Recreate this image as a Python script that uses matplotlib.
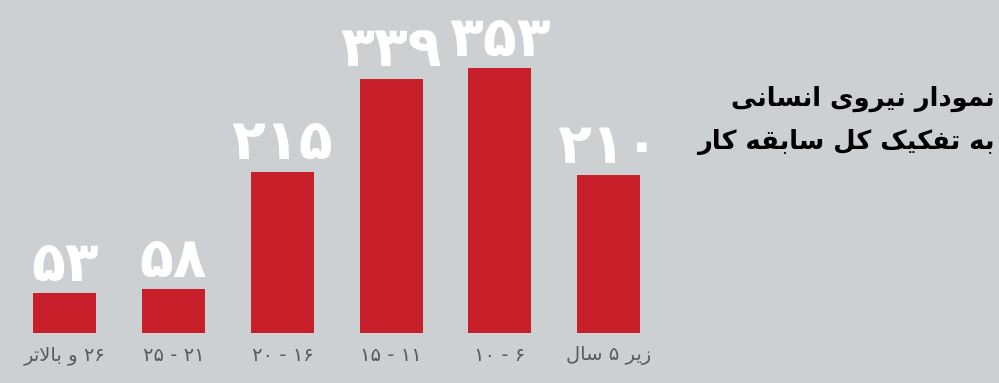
"""Bar chart: workforce by total years of service (Persian labels)."""

import matplotlib
matplotlib.use("Agg")
import matplotlib.pyplot as plt

# data, left to right as in the picture
categories = ["۲۶ و بالاتر", "۲۱ - ۲۵", "۱۶ - ۲۰", "۱۱ - ۱۵", "۶ - ۱۰", "زیر ۵ سال"]
values = [53, 58, 215, 339, 353, 210]
title_lines = ["نمودار نیروی انسانی", "به تفکیک کل سابقه کار"]

BG = "#cdd0d3"
RED = "#c8202b"
LABEL_GRAY = "#5a5a5a"

# matplotlib has no Arabic shaping, so pick the presentation forms by hand
# letter: (isolated, final, initial, medial); right-joining letters have no initial/medial
FORMS = {
    "ا": ("\uFE8D", "\uFE8E", None, None),
    "آ": ("\uFE81", "\uFE82", None, None),
    "د": ("\uFEA9", "\uFEAA", None, None),
    "ر": ("\uFEAD", "\uFEAE", None, None),
    "ز": ("\uFEAF", "\uFEB0", None, None),
    "و": ("\uFEED", "\uFEEE", None, None),
    "\x01": ("\uFEFB", "\uFEFC", None, None),  # lam-alef
    "ب": ("\uFE8F", "\uFE90", "\uFE91", "\uFE92"),
    "ت": ("\uFE95", "\uFE96", "\uFE97", "\uFE98"),
    "س": ("\uFEB1", "\uFEB2", "\uFEB3", "\uFEB4"),
    "ف": ("\uFED1", "\uFED2", "\uFED3", "\uFED4"),
    "ق": ("\uFED5", "\uFED6", "\uFED7", "\uFED8"),
    "ک": ("\uFB8E", "\uFB8F", "\uFB90", "\uFB91"),
    "ل": ("\uFEDD", "\uFEDE", "\uFEDF", "\uFEE0"),
    "م": ("\uFEE1", "\uFEE2", "\uFEE3", "\uFEE4"),
    "ن": ("\uFEE5", "\uFEE6", "\uFEE7", "\uFEE8"),
    "ه": ("\uFEE9", "\uFEEA", "\uFEEB", "\uFEEC"),
    "ی": ("\uFBFC", "\uFBFD", "\uFBFE", "\uFBFF"),
}
DIGITS = "۰۱۲۳۴۵۶۷۸۹"


def shape(text):
    chars = list(text.replace("لا", "\x01"))
    out = []
    for i, c in enumerate(chars):
        if c not in FORMS:
            out.append(c)
            continue
        iso, fin, ini, med = FORMS[c]
        prev = chars[i - 1] if i > 0 else None
        nxt = chars[i + 1] if i + 1 < len(chars) else None
        joins_prev = prev in FORMS and FORMS[prev][2] is not None
        joins_next = ini is not None and nxt in FORMS
        if joins_prev and joins_next:
            out.append(med)
        elif joins_prev:
            out.append(fin)
        elif joins_next:
            out.append(ini)
        else:
            out.append(iso)
    return "".join(out)


def visual(text):
    """Shape and reorder for left-to-right drawing; digit runs stay as they are."""
    shaped = shape(text)
    runs = []
    for c in shaped:
        is_digit = c in DIGITS
        if runs and runs[-1][0] == is_digit:
            runs[-1][1].append(c)
        else:
            runs.append((is_digit, [c]))
    parts = ["".join(r) if d else "".join(reversed(r)) for d, r in runs]
    return "".join(reversed(parts))


def fa_num(n):
    return "".join(DIGITS[int(d)] for d in str(n))


fig = plt.figure(figsize=(9.99, 3.83), dpi=100, facecolor=BG)
ax = fig.add_axes([0.0106, 50 / 383, 0.653, 333 / 383])
ax.set_facecolor(BG)

x = range(len(values))
ax.bar(x, values, width=0.58, color=RED)
ax.set_xlim(-0.5, len(values) - 0.5)
ax.set_ylim(0, 443.6)

#White value labels above the bars
for xi, v in zip(x, values):
    ax.annotate(fa_num(v), (xi, v), xytext=(0, 9), textcoords="offset points",
                ha="center", va="baseline", color="white", fontsize=40,
                fontweight="bold", family="DejaVu Sans", annotation_clip=False)

for xi, cat in zip(x, categories):
    ax.text(xi, -30, visual(cat), ha="center", va="center", color=LABEL_GRAY,
            fontsize=14, family="DejaVu Sans")

for spine in ax.spines.values():
    spine.set_visible(False)
ax.set_xticks([])
ax.set_yticks([])

#Title on the right
fig.text(0.996, 1 - 99 / 383, visual(title_lines[0]), ha="right", va="center",
         fontsize=18.5, fontweight="bold", family="DejaVu Sans", color="black")
fig.text(0.996, 1 - 142 / 383, visual(title_lines[1]), ha="right", va="center",
         fontsize=18.5, fontweight="bold", family="DejaVu Sans", color="black")

fig.savefig("out.png", dpi=100, facecolor=BG)
